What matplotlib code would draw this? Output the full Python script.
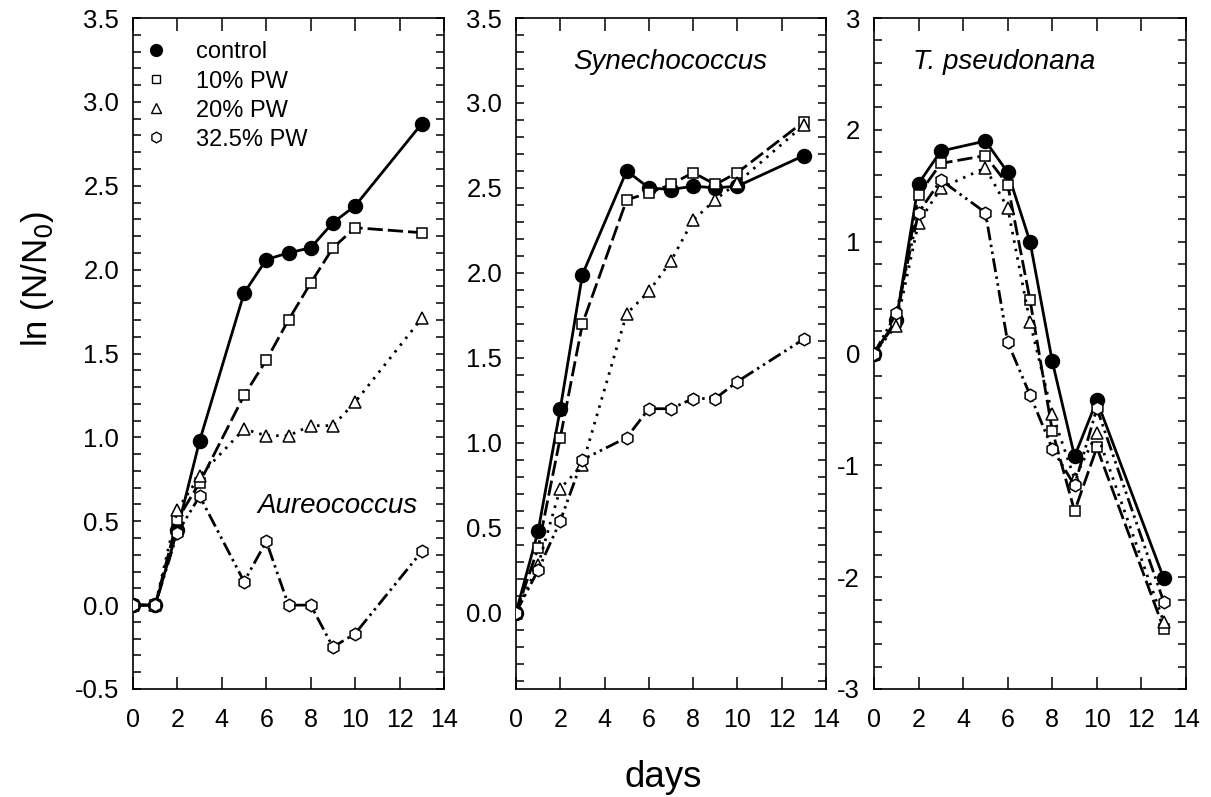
import matplotlib
matplotlib.use("Agg")
import matplotlib.pyplot as plt
from matplotlib.lines import Line2D
from matplotlib.ticker import MultipleLocator, FormatStrFormatter

plt.rcParams['font.family'] = ['Liberation Sans', 'DejaVu Sans']

days = [0, 1, 2, 3, 5, 6, 7, 8, 9, 10, 13]
series_labels = ["control", "10% PW", "20% PW", "32.5% PW"]

# Aureococcus
aur_control = [0.0, 0.0, 0.45, 0.98, 1.86, 2.06, 2.10, 2.13, 2.28, 2.38, 2.87]
aur_pw10 = [0.0, 0.0, 0.51, 0.73, 1.25, 1.46, 1.70, 1.92, 2.13, 2.25, 2.22]
aur_pw20 = [0.0, 0.0, 0.57, 0.77, 1.05, 1.01, 1.01, 1.07, 1.07, 1.21, 1.71]
aur_pw325 = [0.0, 0.0, 0.43, 0.65, 0.14, 0.38, 0.0, 0.0, -0.25, -0.17, 0.32]

# Synechococcus
syn_control = [0.0, 0.48, 1.20, 1.99, 2.60, 2.50, 2.49, 2.51, 2.50, 2.51, 2.69]
syn_pw10 = [0.0, 0.38, 1.03, 1.70, 2.43, 2.47, 2.52, 2.59, 2.52, 2.59, 2.89]
syn_pw20 = [0.0, 0.28, 0.73, 0.87, 1.76, 1.89, 2.07, 2.31, 2.43, 2.53, 2.87]
syn_pw325 = [0.0, 0.25, 0.54, 0.90, 1.03, 1.20, 1.20, 1.26, 1.26, 1.36, 1.61]

# T. pseudonana
tps_control = [0.0, 0.30, 1.52, 1.81, 1.90, 1.62, 1.00, -0.07, -0.92, -0.42, -2.01]
tps_pw10 = [0.0, 0.28, 1.42, 1.70, 1.77, 1.51, 0.48, -0.69, -1.41, -0.84, -2.46]
tps_pw20 = [0.0, 0.25, 1.17, 1.48, 1.66, 1.30, 0.28, -0.54, -1.12, -0.71, -2.40]
tps_pw325 = [0.0, 0.36, 1.26, 1.55, 1.26, 0.10, -0.37, -0.85, -1.18, -0.49, -2.22]

panels = [
    ("Aureococcus", [aur_control, aur_pw10, aur_pw20, aur_pw325]),
    ("Synechococcus", [syn_control, syn_pw10, syn_pw20, syn_pw325]),
    ("T. pseudonana", [tps_control, tps_pw10, tps_pw20, tps_pw325]),
]

styles = [
    dict(marker='o', ms=10, mfc='black', ls='-'),
    dict(marker='s', ms=7.5, mfc='white', ls=(0, (5.5, 1.8))),
    dict(marker='^', ms=8, mfc='white', ls=(0, (0.9, 2.2))),
    dict(marker='h', ms=9, mfc='white', ls=(0, (5, 1.6, 0.9, 1.6, 0.9, 1.6))),
]

fig = plt.figure(figsize=(12.11, 7.97), dpi=100)
W, H = 1211, 797
bottom = 1 - 689 / H
height = (689 - 18) / H
lefts = [133, 516, 874]
widths = [311, 310, 312]

ylims = [(-0.5, 3.5), (-0.45, 3.5), (-3, 3)]
ymajor = [0.5, 0.5, 1.0]
yminor = [0.1, 0.1, 0.2]
yfmt = ['%.1f', '%.1f', '%.0f']
text_pos = [(5.6, 0.59, 'left'), (2.57, 3.24, 'left'), (1.75, 2.61, 'left')]

for i, (name, data) in enumerate(panels):
    ax = fig.add_axes([lefts[i] / W, bottom, widths[i] / W, height])
    for vals, st in zip(data, styles):
        ax.plot(days, vals, color='black', lw=2.0, marker=st['marker'],
                ms=st['ms'], mfc=st['mfc'], mec='black', mew=1.1,
                ls=st['ls'], zorder=3)
    ax.set_xlim(0, 14)
    ax.set_ylim(*ylims[i])
    ax.xaxis.set_major_locator(MultipleLocator(2))
    ax.yaxis.set_major_locator(MultipleLocator(ymajor[i]))
    ax.yaxis.set_minor_locator(MultipleLocator(yminor[i]))
    ax.yaxis.set_major_formatter(FormatStrFormatter(yfmt[i]))
    ax.tick_params(axis='x', which='major', direction='in', top=True, bottom=True,
                   length=9, width=1.1, labelsize=18, pad=14)
    ax.tick_params(axis='y', which='both', direction='in', left=True, right=True,
                   length=5.5, width=1.1, labelsize=18.5, pad=10)
    for sp in ax.spines.values():
        sp.set_linewidth(1.2)
    tx, ty, ha = text_pos[i]
    ax.text(tx, ty, name, fontsize=20, fontstyle='italic', ha=ha, va='center')
    if i == 0:
        handles = [Line2D([], [], color='black', ls='none', marker=st['marker'],
                          ms=st['ms'] * 0.85, mfc=st['mfc'], mec='black', mew=1.0)
                   for st in styles]
        ax.legend(handles, series_labels, loc='upper left',
                  bbox_to_anchor=(0.036, 0.965), frameon=False, fontsize=17,
                  handlelength=1.0, handletextpad=1.19, labelspacing=0.3,
                  borderpad=0, borderaxespad=0)

fig.text(0.031, 1 - 279 / H, r'ln (N/N$_0$)', rotation=90, fontsize=25,
         ha='center', va='center')
fig.text(663 / W, 1 - 787 / H, 'days', fontsize=26.5, ha='center', va='baseline')

fig.savefig('out.png', dpi=100)
